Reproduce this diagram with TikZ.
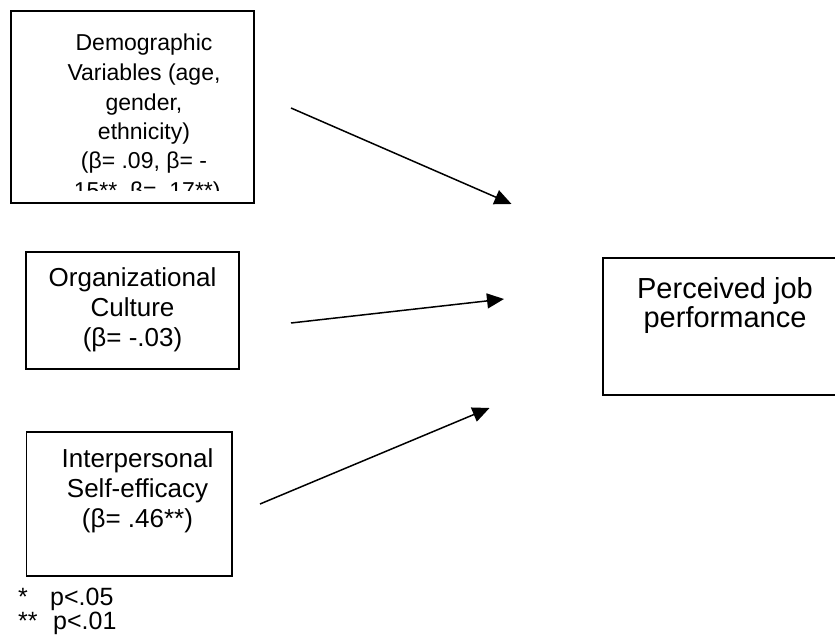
\documentclass[tikz,border=0pt]{standalone}
\usepackage{fontspec}
\setmainfont{Liberation Sans}
\usetikzlibrary{arrows.meta}
\begin{document}
\begin{tikzpicture}[x=1pt,y=-1pt,
  boxnode/.style={draw=black, line width=1.5pt, rectangle, inner sep=0pt},
  txt/.style={inner sep=0pt, align=center, anchor=base},
  smallfont/.style={font=\fontsize{23}{29.5}\selectfont},
  midfont/.style={font=\fontsize{26}{30}\selectfont},
  bigfont/.style={font=\fontsize{29}{29}\selectfont},
  notefont/.style={font=\fontsize{25}{24}\selectfont},
  conn/.style={line width=1.5pt, -{Triangle[length=17pt,width=15pt]}},
]
\useasboundingbox (0,0) rectangle (835,639);
\fill[white] (0,0) rectangle (835,639);

% boxes
\node[boxnode, minimum width=243pt, minimum height=192pt] (demo) at (132.5,107) {};
\node[boxnode, minimum width=213pt, minimum height=117pt] (org) at (132.5,310.5) {};
\node[boxnode, minimum width=205.5pt, minimum height=144pt] (inter) at (129.25,504) {};
\node[boxnode, minimum width=250pt, minimum height=137pt] (perf) at (728,326.5) {};

% texts (anchor = baseline of the last line)
\begin{scope}
  \clip (12,12) rectangle (253,191);
  \node[txt, smallfont] (demotext) at (144,198.5)
    {Demographic\\Variables (age,\\gender,\\ethnicity)\\(β= .09, β= -\\.15**, β= .17**)};
\end{scope}
\node[txt, midfont] (orgtext) at (132.5,346.7)
  {Organizational\\Culture\\(β= -.03)};
\node[txt, midfont] (intertext) at (137.5,527)
  {Interpersonal\\Self-efficacy\\(β= .46**)};
\node[txt, bigfont] (perftext) at (725,327)
  {Perceived job\\performance};

% footnotes
\node[inner sep=0pt, anchor=base west, notefont] (star1) at (18,605) {*};
\node[inner sep=0pt, anchor=base west, notefont] (p1) at (50,605) {p<.05};
\node[inner sep=0pt, anchor=base west, notefont] (star2) at (18,629) {**};
\node[inner sep=0pt, anchor=base west, notefont] (p2) at (53,629) {p<.01};

% connectors
\coordinate (s1) at (291,108);
\coordinate (t1) at (511.5,204);
\coordinate (s2) at (291,323);
\coordinate (t2) at (504,299);
\coordinate (s3) at (260,504);
\coordinate (t3) at (489.5,408);
\draw[conn] (s1) -- (t1);
\draw[conn] (s2) -- (t2);
\draw[conn] (s3) -- (t3);
\end{tikzpicture}
\end{document}
